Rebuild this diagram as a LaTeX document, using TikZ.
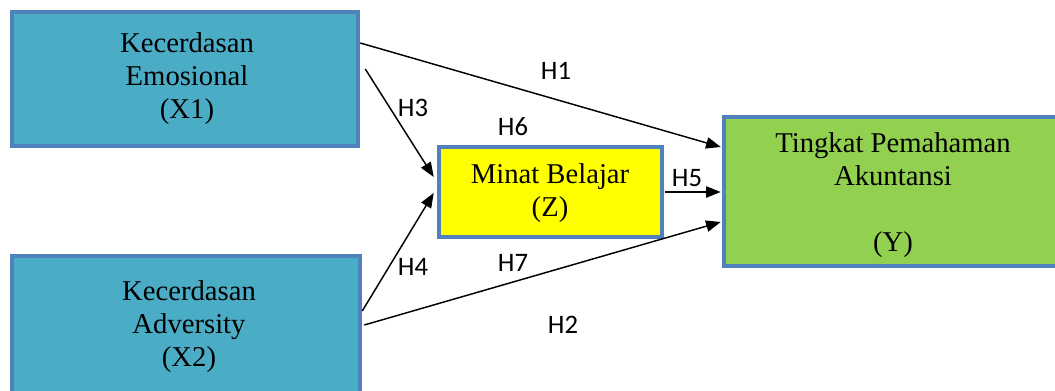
\documentclass[tikz,border=0pt]{standalone}
\usepackage{fontspec}
\setmainfont{Liberation Serif}
\newfontfamily\labfont{Carlito}
\usetikzlibrary{fit,calc,arrows.meta}
\definecolor{bordblue}{HTML}{4F81BD}
\definecolor{aquafill}{HTML}{4BACC6}
\definecolor{greenfill}{HTML}{92D050}
\definecolor{yellowfill}{HTML}{FFFF00}
\begin{document}
\begin{tikzpicture}[x=0.75pt,y=-0.75pt,
  box/.style={draw=bordblue,line width=3.4pt,inner sep=0pt,align=center,
    font=\fontsize{21.5}{24.75}\selectfont},
  conn/.style={line width=1.1pt,-{Triangle[length=11pt,width=8.5pt]}},
  hlab/.style={font=\labfont\fontsize{20}{24}\selectfont,inner sep=0pt}]
\clip (0,0) rectangle (1055,390);
\useasboundingbox (0,0) rectangle (1055,390);
\fill[white] (0,0) rectangle (1055,390);
\node[box,fill=aquafill,fit={(12,12)(358,146)}] (x1) {};
\node (x1t) at (187,79) [align=center,font=\fontsize{21.5}{24.75}\selectfont] {Kecerdasan\\Emosional\\(X1)};
\node[box,fill=aquafill,fit={(12,256)(360,396)}] (x2) {};
\node (x2t) at (189,327) [align=center,font=\fontsize{21.5}{24.75}\selectfont] {Kecerdasan\\Adversity\\(X2)};
\node[box,fill=yellowfill,fit={(439,147)(662,237)}] (z) {};
\node (zt) at (550,193) [align=center,font=\fontsize{21.5}{24.75}\selectfont] {Minat Belajar\\(Z)};
\node[box,fill=greenfill,fit={(724,117)(1065,266)}] (y) {};
\node (yt) at (893,195) [align=center,font=\fontsize{21.5}{24.75}\selectfont] {Tingkat Pemahaman\\Akuntansi\\[24.75pt](Y)};
\draw[conn] (x1.east |- 0,43) -- ($(y.west |- 0,147)+(-1,0)$);
\draw[conn] ($(x1.east |- 0,69)+(5,0)$) -- ($(z.west |- 0,177)+(-3,0)$);
\draw[conn] (x2.east |- 0,311) -- ($(z.west |- 0,193)+(-3,0)$);
\draw[conn] ($(x2.east |- 0,325)+(2,0)$) -- ($(y.west |- 0,222)+(-1,0)$);
\draw[conn] ($(z.east |- 0,192)+(1,0)$) -- ($(y.west |- 0,192)+(-1,0)$);
\node[hlab] (h1) at (556,71) {H1};
\node[hlab] (h3) at (413,108) {H3};
\node[hlab] (h6) at (513,127) {H6};
\node[hlab] (h5) at (687,178) {H5};
\node[hlab] (h4) at (413,267) {H4};
\node[hlab] (h7) at (513,263) {H7};
\node[hlab] (h2) at (563,325) {H2};
\end{tikzpicture}
\end{document}
